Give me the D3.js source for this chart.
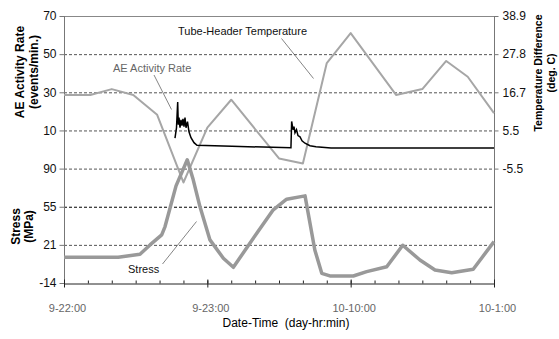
<!DOCTYPE html>
<html><head><meta charset="utf-8">
<script src="https://cdn.jsdelivr.net/npm/d3@7"></script>
<style>body{margin:0;background:#fff}svg{display:block;font-family:Arial,"Liberation Sans",sans-serif}text{white-space:pre}</style>
</head><body><svg id="c" width="559" height="339"></svg>
<script>
// ---- data ----
const xTickLabels = ["9-22:00", "9-23:00", "10-10:00", "10-1:00"];
const xMajorTicks = [0, 6, 12, 18];
const aeTicks = [10, 30, 50, 70];
const stressTicks = [-14, 20.67, 55.33, 90];
const stressTickLabels = ["-14", "21", "55", "90"];
const tempTicks = [-5.556, 5.556, 16.667, 27.778, 38.889];
const tempTickLabels = ["-5.5", "5.5", "16.7", "27.8", "38.9"];

const tempTime = [0, 1.1, 2, 2.9, 3.9, 5.0, 6.0, 7.0, 9.0, 10.0, 11.0, 12.0, 13.9, 15.0, 16.0, 16.9, 18];
const tempC = [15.9, 15.9, 17.6, 15.9, 10.1, -9.6, 6.4, 14.5, -2.6, -4.1, 25.2, 33.9, 15.9, 17.6, 25.8, 21.2, 10.6];

const stressTime = [0, 2.27, 3.18, 3.6, 4.09, 4.23, 4.69, 5.16, 5.41, 5.69, 6.11, 6.67, 7.09, 8.07, 8.76, 9.32, 10.09, 10.5, 10.79, 11.13, 12.11, 12.67, 13.51, 14.18, 14.9, 15.53, 16.23, 17.13, 18];
const stressMPa = [9.4, 9.4, 12.1, 20.6, 29.7, 37.3, 74.3, 98, 79.8, 55.5, 25.2, 8.5, 0.3, 31.3, 52.5, 62.2, 65.2, 16, -5.2, -7.6, -7.6, -3.7, 0.8, 20.3, 6.9, -2.2, -4.6, -1.5, 23.6];

const aeTime = [4.646, 4.709, 4.759, 4.784, 4.814, 4.856, 4.897, 4.939, 4.981, 5.023, 5.065, 5.107, 5.169, 5.232, 5.316, 5.442, 5.567, 7.032, 9.50, 9.53, 9.586, 9.627, 9.669, 9.732, 9.795, 9.879, 9.963, 10.088, 10.297, 10.548, 11.176, 18];
const aeRate = [6.0, 11.4, 24.9, 13.0, 16.7, 11.4, 15.6, 12.5, 16.1, 12.0, 16.7, 11.4, 14.6, 9.3, 6.2, 3.6, 2.2, 1.7, 0.9, 14.7, 10.4, 12.0, 8.8, 10.4, 7.3, 6.7, 4.6, 3.3, 2.0, 1.5, 0.8, 0.8];

// ---- chart ----
const svg = d3.select("#c");
const L = 64, R = 494, T = 16, B = 283, MID = 168.6;
const x = d3.scaleLinear().domain([0, 18]).range([L, R]);
const yAE = d3.scaleLinear().domain([-10, 70]).range([MID, T]);
const yT = d3.scaleLinear().domain([-5.556, 38.889]).range([MID, T]);
const yS = d3.scaleLinear().domain([-14, 90]).range([B, MID]);

// gridlines
const gridAE = svg.append("g").attr("transform", `translate(${L},0)`)
  .call(d3.axisLeft(yAE).tickValues([-10, 10, 30, 50]).tickSize(-(R - L)).tickFormat(""));
const gridS = svg.append("g").attr("transform", `translate(${L},0)`)
  .call(d3.axisLeft(yS).tickValues([20.67, 55.33]).tickSize(-(R - L)).tickFormat(""));
[gridAE, gridS].forEach(g => {
  g.select(".domain").remove();
  g.selectAll("line").attr("stroke", "#555").attr("stroke-dasharray", "3,2").attr("stroke-width", 1);
});
gridS.selectAll(".tick").filter(d => d > 50).select("line").attr("stroke", "#000");

// frame lines
svg.append("line").attr("x1", L).attr("x2", R).attr("y1", T + 0.5).attr("y2", T + 0.5).attr("stroke", "#888");
svg.append("line").attr("x1", L + 0.5).attr("x2", L + 0.5).attr("y1", T).attr("y2", B).attr("stroke", "#777");
svg.append("line").attr("x1", R + 0.5).attr("x2", R + 0.5).attr("y1", T).attr("y2", B).attr("stroke", "#777");

// left axes
function styleAxis(g) {
  g.select(".domain").remove();
  g.selectAll("line").attr("stroke", "#777");
  g.selectAll("text").attr("font-size", 12).attr("fill", "#111");
}
svg.append("g").attr("transform", `translate(${L + 0.5},0)`)
  .call(d3.axisLeft(yAE).tickValues(aeTicks).tickSize(5).tickPadding(3)).call(styleAxis);
svg.append("g").attr("transform", `translate(${L + 0.5},0)`)
  .call(d3.axisLeft(yS).tickValues(stressTicks).tickSize(5).tickPadding(3)
    .tickFormat((d, i) => stressTickLabels[i])).call(styleAxis);
// right axis
svg.append("g").attr("transform", `translate(${R + 0.5},0)`)
  .call(d3.axisRight(yT).tickValues(tempTicks).tickSize(4).tickPadding(4)
    .tickFormat((d, i) => tempTickLabels[i])).call(styleAxis);

// x axis
const xMinor = d3.range(0, 19);
const gxm = svg.append("g").attr("transform", `translate(0,${B + 0.5})`)
  .call(d3.axisTop(x).tickValues(xMinor).tickSize(3).tickFormat(""));
gxm.select(".domain").attr("stroke", "#222");
gxm.selectAll("line").attr("stroke", "#222");
const gxM = svg.append("g").attr("transform", `translate(0,${B + 0.5})`)
  .call(d3.axisBottom(x).tickValues(xMajorTicks).tickSize(4).tickPadding(17)
    .tickFormat((d, i) => xTickLabels[i]));
gxM.select(".domain").remove();
gxM.selectAll("line").attr("stroke", "#222").attr("y1", -4);
gxM.selectAll("text").attr("font-size", 11).attr("fill", "#666").attr("dx", 3);

// lines
svg.append("path").datum(d3.zip(tempTime, tempC))
  .attr("fill", "none").attr("stroke", "#a6a6a6").attr("stroke-width", 2)
  .attr("stroke-linejoin", "round")
  .attr("d", d3.line().x(d => x(d[0])).y(d => yT(d[1])));
svg.append("path").datum(d3.zip(stressTime, stressMPa))
  .attr("fill", "none").attr("stroke", "#999").attr("stroke-width", 3.5)
  .attr("stroke-linejoin", "round")
  .attr("d", d3.line().x(d => x(d[0])).y(d => yS(d[1])));
svg.append("path").datum(d3.zip(aeTime, aeRate))
  .attr("fill", "none").attr("stroke", "#000").attr("stroke-width", 1.5)
  .attr("d", d3.line().x(d => x(d[0])).y(d => yAE(d[1])));

// annotations
function note(text, tx, ty, color, x1, y1, x2, y2) {
  svg.append("text").attr("x", tx).attr("y", ty).attr("font-size", 11).attr("fill", color).text(text);
  svg.append("line").attr("x1", x1).attr("y1", y1).attr("x2", x2).attr("y2", y2)
    .attr("stroke", "#333").attr("stroke-width", 0.6);
}
note("Tube-Header Temperature", 178, 35, "#111", 281.5, 38.5, 313.5, 78.5);
note("AE Activity Rate", 113, 72, "#666", 154, 75, 171.5, 109.5);
note("Stress", 128, 273, "#111", 162.5, 264, 196.5, 221.5);

// axis titles
function vtitle(lines, cx, cy, dx, fs) {
  lines.forEach((t, i) => {
    svg.append("text").attr("transform", `translate(${cx + i * dx},${cy}) rotate(-90)`)
      .attr("text-anchor", "middle").attr("font-size", fs).attr("font-weight", "bold")
      .attr("fill", "#000").text(t);
  });
}
vtitle(["AE Activity Rate", "(events/min.)"], 24, 72, 13.5, 12);
vtitle(["Stress", "(MPa)"], 19.5, 226.5, 13, 12);
vtitle(["Temperature Difference", "(deg. C)"], 542, 73, 13, 10.5);

svg.append("text").attr("x", 286).attr("y", 327).attr("text-anchor", "middle")
  .attr("font-size", 12).attr("fill", "#000").text("Date-Time  (day-hr:min)");
</script></body></html>
